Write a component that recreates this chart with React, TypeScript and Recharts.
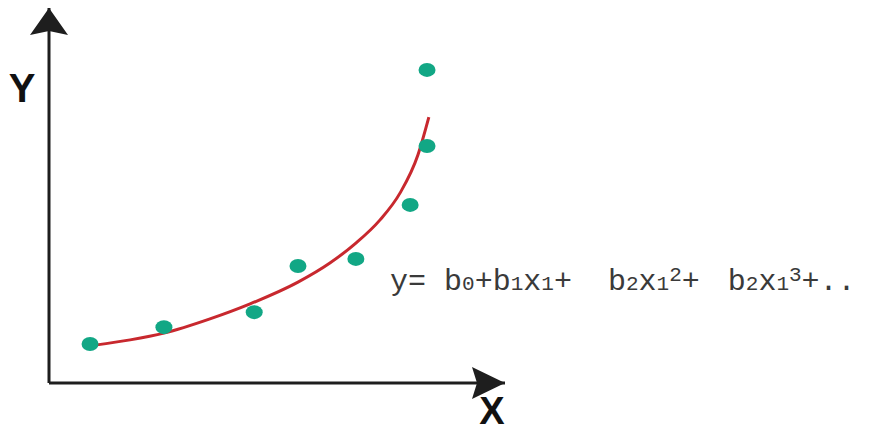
import React from "react";
import { ComposedChart, XAxis, YAxis, Line, Scatter, ReferenceDot, ReferenceLine } from "recharts";

// Observed sample points (x, y in chart units)
const pointX = [0.9, 2.52, 4.5, 5.46, 6.73, 7.92, 8.29, 8.29];
const pointY = [1.04, 1.49, 1.89, 3.12, 3.31, 4.75, 6.32, 8.35];

// Fitted polynomial regression curve
const curveX = [1.01, 1.78, 2.52, 3.53, 4.41, 5.46, 6.16, 6.73, 7.26, 7.7, 8.09, 8.33];
const curveY = [1.01, 1.15, 1.33, 1.71, 2.11, 2.69, 3.2, 3.73, 4.35, 5.07, 6.08, 7.09];

const axisLabels = { x: "X", y: "Y" };
const xDomain = [0, 10];
const yDomain = [0, 10];

const points = pointX.map((x, i) => ({ x, y: pointY[i] }));
const curve = curveX.map((x, i) => ({ x, y: curveY[i] }));

const AXIS = "#1e1e1e";
const DOT = "#12a785";
const CURVE = "#c8282e";
const MONO = "'Courier New', 'Nimbus Mono PS', 'Nimbus Mono L', FreeMono, Courier, 'Liberation Mono', monospace";

const Dot = (p: any) => <ellipse cx={p.cx} cy={p.cy} rx={8.5} ry={7} fill={DOT} />;

const UpArrow = (p: any) => (
  <g>
    <path
      d={`M ${p.cx} ${p.cy} L ${p.cx + 19} ${p.cy + 27} L ${p.cx} ${p.cy + 23} L ${p.cx - 19} ${p.cy + 27} Z`}
      fill={AXIS}
    />
    <text
      x={p.cx - 27}
      y={p.cy + 94}
      textAnchor="middle"
      style={{ fontFamily: "'Liberation Sans', Arial, sans-serif", fontWeight: "bold", fontSize: 40 }}
      fill="#111"
    >
      {axisLabels.y}
    </text>
  </g>
);

const RightArrow = (p: any) => (
  <g>
    <path
      d={`M ${p.cx} ${p.cy} L ${p.cx - 33} ${p.cy - 16} L ${p.cx - 28} ${p.cy} L ${p.cx - 33} ${p.cy + 16} Z`}
      fill={AXIS}
    />
    <text
      x={p.cx - 13}
      y={p.cy + 41}
      textAnchor="middle"
      style={{ fontFamily: "'Liberation Sans', Arial, sans-serif", fontWeight: "bold", fontSize: 38 }}
      fill="#111"
    >
      {axisLabels.x}
    </text>
    <text
      x={p.cx - 115}
      y={p.cy - 93}
      style={{ fontFamily: MONO, fontSize: 30, whiteSpace: "pre" }}
      fill="#3a3a3a"
      xmlSpace="preserve"
    >
      <tspan>{"y= b"}</tspan>
      <tspan fontSize={21}>0</tspan>
      <tspan>{"+b"}</tspan>
      <tspan fontSize={21}>1</tspan>
      <tspan>x</tspan>
      <tspan fontSize={21}>1</tspan>
      <tspan>{"+  b"}</tspan>
      <tspan fontSize={21}>2</tspan>
      <tspan>x</tspan>
      <tspan fontSize={21}>1</tspan>
      <tspan fontSize={21} dy={-9}>2</tspan>
      <tspan dy={9}>+</tspan>
      <tspan dx={10}>{" b"}</tspan>
      <tspan fontSize={21}>2</tspan>
      <tspan>x</tspan>
      <tspan fontSize={21}>1</tspan>
      <tspan fontSize={21} dy={-9}>3</tspan>
      <tspan dy={9}>{"+.."}</tspan>
    </text>
  </g>
);

export default function App() {
  return (
    <div style={{ position: "absolute", left: 0, top: 0, width: 869, height: 427, background: "#fff" }}>
      <ComposedChart
        width={869}
        height={427}
        margin={{ top: 8, left: 49, right: 364, bottom: 44 }}
      >
        <XAxis type="number" dataKey="x" domain={xDomain} hide allowDataOverflow />
        <YAxis type="number" dataKey="y" domain={yDomain} hide allowDataOverflow />
        <ReferenceLine x={0} stroke={AXIS} strokeWidth={3} ifOverflow="visible" />
        <ReferenceLine y={0} stroke={AXIS} strokeWidth={3} ifOverflow="visible" />
        <Line
          data={curve}
          dataKey="y"
          type="monotoneX"
          stroke={CURVE}
          strokeWidth={3}
          dot={false}
          activeDot={false}
          isAnimationActive={false}
        />
        <Scatter data={points} dataKey="y" shape={Dot} isAnimationActive={false} />
        <ReferenceDot x={0} y={10} r={1} ifOverflow="visible" shape={UpArrow} />
        <ReferenceDot x={10} y={0} r={1} ifOverflow="visible" shape={RightArrow} />
      </ComposedChart>
    </div>
  );
}
